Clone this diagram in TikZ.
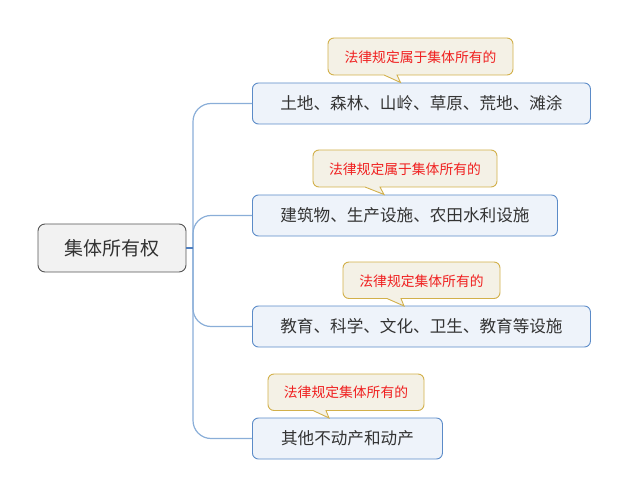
\documentclass[tikz,border=0pt]{standalone}
\usepackage{fontspec}
\setmainfont{Noto Sans CJK SC}
\definecolor{rootfill}{HTML}{F2F2F2}
\definecolor{rootdraw}{HTML}{555555}
\definecolor{brfill}{HTML}{EEF3FA}
\definecolor{brdraw}{HTML}{5B8BC8}
\definecolor{connc}{HTML}{8AAED8}
\definecolor{conndark}{HTML}{4F7FBF}
\definecolor{cfill}{HTML}{F4F1E6}
\definecolor{cdraw}{HTML}{D2B04A}
\definecolor{txt}{HTML}{333333}
\definecolor{ctxt}{HTML}{F02020}
\begin{document}
\begin{tikzpicture}[x=1pt,y=-1pt,
  rootbox/.style={draw=rootdraw,fill=rootfill,line width=0.9pt,rounded corners=7pt,
    minimum width=148pt,minimum height=48pt,inner sep=0pt,text=txt,font=\fontsize{19}{22}\selectfont},
  brbox/.style={draw=brdraw,fill=brfill,line width=0.9pt,rounded corners=6pt,
    minimum height=41pt,inner sep=0pt,text=txt,anchor=west,font=\fontsize{16.6}{20}\selectfont},
  ctext/.style={inner sep=0pt,text=ctxt,font=\fontsize{13.8}{16}\selectfont},
  cshape/.style={draw=cdraw,fill=cfill,line width=0.9pt},
  conn/.style={draw=connc,line width=1.2pt,rounded corners=18pt},
]
\useasboundingbox (0,0) rectangle (629,497);

\node[rootbox] (root) at (112,248) {集体所有权};
\coordinate (j) at (193,248);

\node[brbox,minimum width=338pt] (b1) at (252,103.5) {土地、森林、山岭、草原、荒地、滩涂};
\node[brbox,minimum width=305pt] (b2) at (252,215.5) {建筑物、生产设施、农田水利设施};
\node[brbox,minimum width=338pt] (b3) at (252,326.5) {教育、科学、文化、卫生、教育等设施};
\node[brbox,minimum width=190pt] (b4) at (252,438.5) {其他不动产和动产};

\draw[conn] (j) -- (193,103.5) -- (b1.west);
\draw[conn] (j) -- (193,215.5) -- (b2.west);
\draw[conn] (j) -- (193,326.5) -- (b3.west);
\draw[conn] (j) -- (193,438.5) -- (b4.west);
\draw[draw=conndark,line width=1.2pt] (root.east) -- (j);

% callout 1
\coordinate (t1) at (400.5,82.5);
\draw[cshape] (t1) -- (384,75) [rounded corners=6pt] -- (328,75) -- (328,38) -- (513,38) -- (513,75) [sharp corners] -- (397,75) -- cycle;
\node[ctext] (c1) at (420.5,57) {法律规定属于集体所有的};

% callout 2
\coordinate (t2) at (384,194.5);
\draw[cshape] (t2) -- (365,187) [rounded corners=6pt] -- (313,187) -- (313,150) -- (497,150) -- (497,187) [sharp corners] -- (380,187) -- cycle;
\node[ctext] (c2) at (405,169) {法律规定属于集体所有的};

% callout 3
\coordinate (t3) at (404,306);
\draw[cshape] (t3) -- (387,298.5) [rounded corners=6pt] -- (343,298.5) -- (343,262) -- (500,262) -- (500,298.5) [sharp corners] -- (401,298.5) -- cycle;
\node[ctext] (c3) at (421.5,281) {法律规定集体所有的};

% callout 4
\coordinate (t4) at (329,418);
\draw[cshape] (t4) -- (313,410.5) [rounded corners=6pt] -- (268,410.5) -- (268,374) -- (424,374) -- (424,410.5) [sharp corners] -- (326,410.5) -- cycle;
\node[ctext] (c4) at (346,392.5) {法律规定集体所有的};
\end{tikzpicture}
\end{document}
